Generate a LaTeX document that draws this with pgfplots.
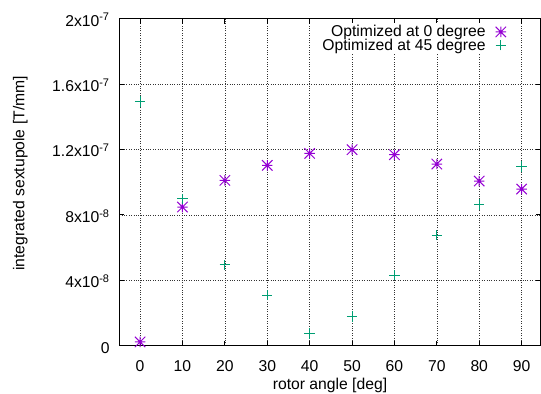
\documentclass[border=0pt]{standalone}
\usepackage{pgfplots}
\pgfplotsset{compat=1.18}
\usepackage{fontspec}
\setmainfont{Liberation Sans}
\definecolor{gppurple}{HTML}{9400D3}
\definecolor{gpgreen}{HTML}{009E73}
\pgfdeclareplotmark{gpstar}{%
  \pgfpathmoveto{\pgfqpoint{-\pgfplotmarksize}{0pt}}\pgfpathlineto{\pgfqpoint{\pgfplotmarksize}{0pt}}%
  \pgfpathmoveto{\pgfqpoint{0pt}{-\pgfplotmarksize}}\pgfpathlineto{\pgfqpoint{0pt}{\pgfplotmarksize}}%
  \pgfpathmoveto{\pgfqpoint{-\pgfplotmarksize}{-\pgfplotmarksize}}\pgfpathlineto{\pgfqpoint{\pgfplotmarksize}{\pgfplotmarksize}}%
  \pgfpathmoveto{\pgfqpoint{-\pgfplotmarksize}{\pgfplotmarksize}}\pgfpathlineto{\pgfqpoint{\pgfplotmarksize}{-\pgfplotmarksize}}%
  \pgfusepathqstroke}
\pgfdeclareplotmark{gpplus}{%
  \pgfpathmoveto{\pgfqpoint{-\pgfplotmarksize}{0pt}}\pgfpathlineto{\pgfqpoint{\pgfplotmarksize}{0pt}}%
  \pgfpathmoveto{\pgfqpoint{0pt}{-\pgfplotmarksize}}\pgfpathlineto{\pgfqpoint{0pt}{\pgfplotmarksize}}%
  \pgfusepathqstroke}
\begin{document}
\begin{tikzpicture}
\begin{axis}[
  scale only axis,
  width=421.4bp, height=327bp,
  xmin=-4.9, xmax=94.5,
  ymin=0, ymax=2e-7,
  xtick={0,10,20,30,40,50,60,70,80,90},
  ytick={0,4e-8,8e-8,1.2e-7,1.6e-7,2e-7},
  yticklabels={0,4x10\textsuperscript{-8},8x10\textsuperscript{-8},1.2x10\textsuperscript{-7},1.6x10\textsuperscript{-7},2x10\textsuperscript{-7}},
  scaled y ticks=false,
  /pgf/number format/assume math mode=true,
  font=\fontsize{15.7bp}{17bp}\selectfont,
  tick align=inside,
  xtick pos=both, ytick pos=both,
  major tick length=5bp,
  tick style={black, line width=0.8bp},
  axis line style={black, line width=1bp},
  grid=major,
  major grid style={black!80, line width=0.6bp, dash pattern=on 0.8bp off 1.6bp},
  xticklabel style={anchor=base, inner sep=0pt, yshift=-26bp},
  yticklabel style={anchor=base east, inner sep=0pt, xshift=-9.5bp, yshift=-7.5bp},
  xlabel={rotor angle [deg]},
  ylabel={integrated sextupole [T/mm]},
  xlabel style={at={(rel axis cs:0.5,-0.135)}, anchor=base},
  ylabel style={at={(rel axis cs:-0.235,0.527)}, anchor=center},
  legend plot pos=right,
  legend cell align=right,
  legend style={at={(rel axis cs:0.9205,0.986)}, anchor=north east, draw=none, fill=white,
    inner sep=1bp, row sep=-1.7bp, column sep=9bp, nodes={inner sep=1bp},
    font=\fontsize{15.7bp}{17bp}\selectfont},
]
\addplot[only marks, mark=gpstar, mark size=5.2bp, color=gppurple, mark options={solid, draw=gppurple}, line width=1bp] coordinates {
  (0,2.3e-9) (10,8.48e-8) (20,1.011e-7) (30,1.103e-7) (40,1.176e-7)
  (50,1.199e-7) (60,1.168e-7) (70,1.111e-7) (80,1.007e-7) (90,9.58e-8)};
\addlegendentry{Optimized at 0 degree}
\addplot[only marks, mark=gpplus, mark size=5.2bp, color=gpgreen, mark options={solid, draw=gpgreen}, line width=1bp] coordinates {
  (0,1.494e-7) (10,8.99e-8) (20,4.95e-8) (30,3.10e-8) (40,7.5e-9)
  (50,1.79e-8) (60,4.32e-8) (70,6.77e-8) (80,8.64e-8) (90,1.095e-7)};
\addlegendentry{Optimized at 45 degree}
\end{axis}
\pgfresetboundingbox
\useasboundingbox (current axis.south west) ++(-119.3bp,-48.3bp) rectangle ++(541bp,394bp);
\end{tikzpicture}
\end{document}
